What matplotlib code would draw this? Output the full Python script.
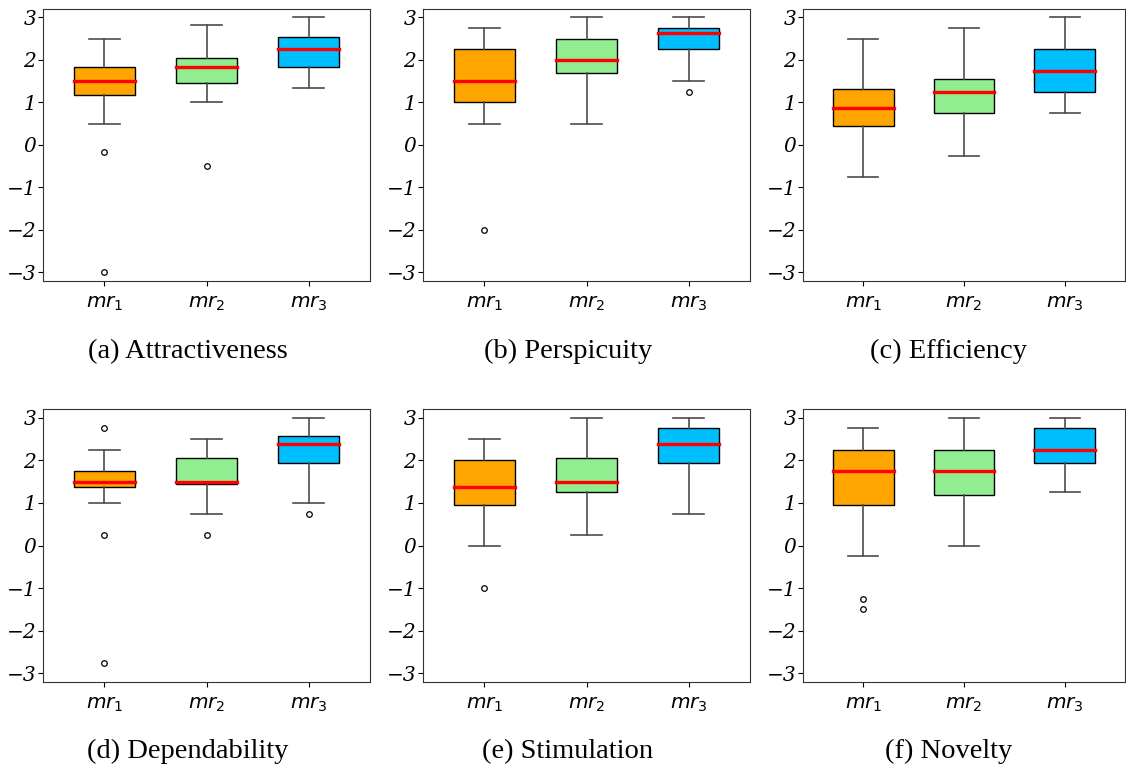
import matplotlib.pyplot as plt

# Підписи панелей і категорій
titles = ['(a) Attractiveness', '(b) Perspicuity', '(c) Efficiency',
          '(d) Dependability', '(e) Stimulation', '(f) Novelty']
labels = [r'$mr_1$', r'$mr_2$', r'$mr_3$']
colors = ['orange', 'lightgreen', 'deepskyblue']

# Статистики боксплотів (по 3 значення на панель: mr1, mr2, mr3)
whislo = [[0.5, 1.0, 1.33], [0.5, 0.5, 1.5], [-0.75, -0.25, 0.75],
          [1.0, 0.75, 1.0], [0.0, 0.25, 0.75], [-0.25, 0.0, 1.25]]
q1 = [[1.17, 1.46, 1.83], [1.0, 1.69, 2.25], [0.44, 0.75, 1.25],
      [1.38, 1.44, 1.94], [0.94, 1.25, 1.94], [0.94, 1.19, 1.94]]
med = [[1.5, 1.83, 2.25], [1.5, 2.0, 2.63], [0.88, 1.25, 1.75],
       [1.5, 1.5, 2.38], [1.38, 1.5, 2.38], [1.75, 1.75, 2.25]]
q3 = [[1.83, 2.04, 2.54], [2.25, 2.5, 2.75], [1.31, 1.56, 2.25],
      [1.75, 2.06, 2.56], [2.0, 2.06, 2.75], [2.25, 2.25, 2.75]]
whishi = [[2.5, 2.83, 3.0], [2.75, 3.0, 3.0], [2.5, 2.75, 3.0],
          [2.25, 2.5, 3.0], [2.5, 3.0, 3.0], [2.75, 3.0, 3.0]]
fliers = [[[-0.17, -3.0], [-0.5], []],
          [[-2.0], [], [1.25]],
          [[], [], []],
          [[2.75, 0.25, -2.75], [0.25], [0.75]],
          [[-1.0], [], []],
          [[-1.25, -1.5], [], []]]
yticks = [-3, -2, -1, 0, 1, 2, 3]
ytick_labels = ['\u22123', '\u22122', '\u22121', '0', '1', '2', '3']

fig = plt.figure(figsize=(11.26, 7.67), dpi=100)
W, H = 1126, 767
col_left = [43, 423, 803]
col_w = [327, 327, 322]
row_top = [9, 409]
row_h = [272, 273]
cap_x = [188, 568, 949]
cap_y = [358, 758]

for i in range(6):
    r, c = divmod(i, 3)
    ax = fig.add_axes([col_left[c] / W, 1 - (row_top[r] + row_h[r]) / H,
                       col_w[c] / W, row_h[r] / H])
    stats = []
    for j in range(3):
        stats.append(dict(whislo=whislo[i][j], q1=q1[i][j], med=med[i][j],
                          q3=q3[i][j], whishi=whishi[i][j],
                          fliers=fliers[i][j], label=labels[j]))
    bp = ax.bxp(stats, widths=0.6, patch_artist=True,
                boxprops=dict(edgecolor='black', linewidth=1.0),
                medianprops=dict(color='red', linewidth=2.4, solid_capstyle='projecting'),
                whiskerprops=dict(color='#4d4d4d', linewidth=1.2),
                capprops=dict(color='#4d4d4d', linewidth=1.2),
                flierprops=dict(marker='o', markersize=4, markerfacecolor='none',
                                markeredgecolor='black', markeredgewidth=0.9))
    for patch, col in zip(bp['boxes'], colors):
        patch.set_facecolor(col)
    ax.set_xlim(0.4, 3.6)
    ax.set_ylim(-3.2, 3.2)
    ax.set_yticks(yticks)
    ax.set_yticklabels(ytick_labels, family='DejaVu Serif', style='italic', fontsize=14.5)
    ax.tick_params(axis='y', pad=1.5)
    ax.tick_params(axis='x', labelsize=14.5, pad=6)
    for s in ax.spines.values():
        s.set_color('#333333')
    fig.text(cap_x[c] / W, 1 - cap_y[r] / H, titles[i], ha='center', va='baseline',
             family='Liberation Serif', fontsize=20.5)

fig.savefig('out.png', dpi=100)
